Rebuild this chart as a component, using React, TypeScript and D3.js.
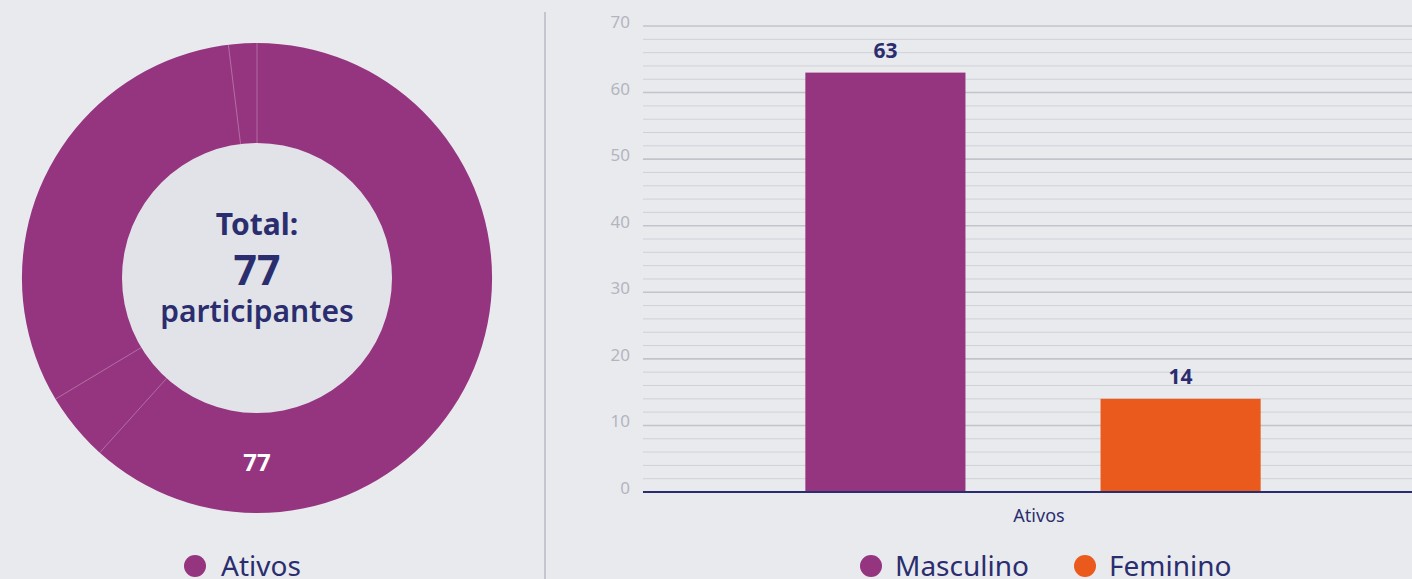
import React, { useEffect, useRef } from 'react';
import * as d3 from 'd3';

// donut data
const donutLabels = ["Ativos"];
const donutValues = [77];
// faint seams visible in the donut ring (degrees, clockwise from top)
const seamAngles = [0, 353, 239, 222];

// bar chart data
const barCategories = ["Ativos"];
const barSeries = ["Masculino", "Feminino"];
const barValues = [63, 14];
const yTicks = [0, 10, 20, 30, 40, 50, 60, 70];

const PURPLE = "#953580";
const ORANGE = "#E95A1C";
const NAVY = "#2B2E6E";
const BG = "#E9EAEE";
const FONT = "'Noto Sans', 'Open Sans', sans-serif";

const W = 1412;
const H = 579;

const App = () => {
    const svgRef = useRef<SVGSVGElement>(null);

    useEffect(() => {
        const svg = d3.select(svgRef.current);
        svg.selectAll("*").remove();

        svg.append("rect").attr("width", W).attr("height", H).attr("fill", BG);

        // ---- donut ----
        const cx = 257, cy = 278, outerR = 235, innerR = 135;
        const g = svg.append("g").attr("transform", `translate(${cx},${cy})`);

        g.append("circle").attr("r", innerR).attr("fill", "#E2E3E8");

        const pie = d3.pie<number>().sort(null).value(d => d);
        const arc = d3.arc<d3.PieArcDatum<number>>().innerRadius(innerR).outerRadius(outerR);
        const arcs = pie(donutValues);

        g.selectAll(".slice")
            .data(arcs)
            .enter()
            .append("path")
            .attr("class", "slice")
            .attr("d", arc)
            .attr("fill", PURPLE);

        g.selectAll(".seam")
            .data(seamAngles)
            .enter()
            .append("line")
            .attr("x1", d => innerR * Math.sin(d * Math.PI / 180))
            .attr("y1", d => -innerR * Math.cos(d * Math.PI / 180))
            .attr("x2", d => outerR * Math.sin(d * Math.PI / 180))
            .attr("y2", d => -outerR * Math.cos(d * Math.PI / 180))
            .attr("stroke", "#ffffff")
            .attr("stroke-opacity", 0.28)
            .attr("stroke-width", 1);

        g.selectAll(".slice-label")
            .data(arcs)
            .enter()
            .append("text")
            .attr("transform", d => {
                const mid = (d.startAngle + d.endAngle) / 2;
                const r = (innerR + outerR) / 2;
                return `translate(${r * Math.sin(mid)},${-r * Math.cos(mid)})`;
            })
            .attr("text-anchor", "middle")
            .attr("dy", "0.35em")
            .attr("fill", "#ffffff")
            .style("font-family", FONT)
            .style("font-weight", 700)
            .style("font-size", "24px")
            .text(d => d.data);

        const total = d3.sum(donutValues);
        const center = g.append("text")
            .attr("text-anchor", "middle")
            .attr("fill", NAVY)
            .style("font-family", FONT)
            .style("font-weight", 700);
        center.append("tspan").attr("x", 0).attr("y", -43).style("font-size", "30px").text("Total:");
        center.append("tspan").attr("x", 0).attr("y", 7).style("font-size", "41px").text(total);
        center.append("tspan").attr("x", 0).attr("y", 44).style("font-size", "30px").style("font-weight", 600).text("participantes");

        // donut legend
        const leg1 = svg.append("g").attr("transform", `translate(195,566)`);
        donutLabels.forEach((lab) => {
            leg1.append("circle").attr("cx", 0).attr("cy", 0).attr("r", 11).attr("fill", PURPLE);
            leg1.append("text").attr("x", 26).attr("dy", "0.36em")
                .attr("fill", NAVY).style("font-family", FONT).style("font-size", "28px").text(lab);
        });

        // divider
        svg.append("line").attr("x1", 545).attr("x2", 545).attr("y1", 12).attr("y2", H)
            .attr("stroke", "#C4C5CF").attr("stroke-width", 2);

        // ---- bar chart ----
        const left = 643, right = 1423, top = 26, bottom = 492;
        const y = d3.scaleLinear().domain([0, 70]).range([bottom, top]);
        const x0 = d3.scaleBand().domain(barCategories).range([left, right]);
        const x1 = d3.scaleBand().domain(barSeries).range([0, x0.bandwidth()]).paddingInner(0.4576).paddingOuter(0.55);

        const minor = d3.range(0, 71, 2);
        svg.selectAll(".grid")
            .data(minor)
            .enter()
            .append("line")
            .attr("x1", left).attr("x2", W)
            .attr("y1", d => y(d)).attr("y2", d => y(d))
            .attr("stroke", d => d % 10 === 0 ? "#C3C4CB" : "#D0D1D7")
            .attr("stroke-width", d => d % 10 === 0 ? 1.6 : 1);

        svg.selectAll(".ytick")
            .data(yTicks)
            .enter()
            .append("text")
            .attr("x", 630)
            .attr("y", d => y(d) + 2)
            .attr("text-anchor", "end")
            .attr("fill", "#B3B5BE")
            .style("font-family", FONT)
            .style("font-size", "17px")
            .text(d => d);

        const colors = [PURPLE, ORANGE];
        barCategories.forEach(cat => {
            const bg = svg.append("g").attr("transform", `translate(${x0(cat)},0)`);
            bg.selectAll("rect")
                .data(barValues)
                .enter()
                .append("rect")
                .attr("x", (d, i) => x1(barSeries[i]) as number)
                .attr("y", d => y(d))
                .attr("width", x1.bandwidth())
                .attr("height", d => bottom - y(d))
                .attr("fill", (d, i) => colors[i]);
            bg.selectAll(".val")
                .data(barValues)
                .enter()
                .append("text")
                .attr("x", (d, i) => (x1(barSeries[i]) as number) + x1.bandwidth() / 2)
                .attr("y", d => y(d) - 15)
                .attr("text-anchor", "middle")
                .attr("fill", NAVY)
                .style("font-family", FONT)
                .style("font-weight", 700)
                .style("font-size", "21px")
                .text(d => d);
        });

        svg.append("line").attr("x1", left).attr("x2", W).attr("y1", bottom).attr("y2", bottom)
            .attr("stroke", NAVY).attr("stroke-width", 2);

        svg.selectAll(".xlab")
            .data(barCategories)
            .enter()
            .append("text")
            .attr("x", d => (x0(d) as number) + x0.bandwidth() / 2 + 6)
            .attr("y", 522)
            .attr("text-anchor", "middle")
            .attr("fill", NAVY)
            .style("font-family", FONT)
            .style("font-size", "18px")
            .text(d => d);

        // bar legend
        const legX = [871, 1085];
        barSeries.forEach((s, i) => {
            const lg = svg.append("g").attr("transform", `translate(${legX[i]},566)`);
            lg.append("circle").attr("r", 11).attr("fill", colors[i]);
            lg.append("text").attr("x", 24).attr("dy", "0.36em")
                .attr("fill", NAVY).style("font-family", FONT).style("font-size", "28px").text(s);
        });
    }, []);

    return (
        <div style={{ position: "absolute", left: 0, top: 0, width: W, height: H, overflow: "hidden" }}>
            <svg ref={svgRef} width={W} height={H} style={{ display: "block" }}></svg>
        </div>
    );
};

export default App;
